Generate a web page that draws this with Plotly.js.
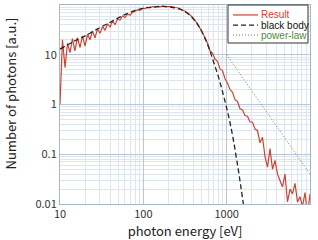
<!DOCTYPE html>
<html><head><meta charset="utf-8">
<script src="https://cdn.plot.ly/plotly-3.0.1.min.js"></script>
<style>html,body{margin:0;padding:0;background:#fff}</style>
</head><body><div id="chart" style="width:318px;height:240px"></div>
<script>
// Result (simulated spectrum)
const resultE = [10,10.7,11.5,12.3,13.2,14.1,15.1,16.2,17.4,18.6,20.0,21.4,22.9,24.5,26.3,28.2,30.2,32.4,34.7,37.2,39.8,42.7,45.7,49.0,52.5,56.2,60.3,64.6,69.2,74.1,79.4,85.1,91.2,97.7,105,112,120,129,138,148,158,170,182,195,209,224,240,257,275,295,316,339,363,389,417,447,479,513,550,589,631,676,724,776,832,891,955,1023,1096,1175,1259,1349,1445,1549,1660,1778,1905,2042,2188,2344,2512,2692,2884,3090,3311,3548,3802,4074,4365,4677,5012,5370,5754,6166,6607,7079,7586,8128,8710,9333,10000];
const resultN = [1.0,20,5.5,17,11,21,12,22,14,24,15,26,20,30,22,33,27,37,31,42,36,48,40,52,50,60,56,66,62,72,74,80,78,86,85,90,88,93,91,94,92,95,93,94,92,93,89,88,84,80,75,70,64,57,49,42,34,28,22,17,12,10.8,8.2,7.4,5.2,4.8,3.3,2.7,2.0,1.75,1.25,1.15,0.82,0.78,0.6,0.58,0.45,0.44,0.32,0.3,0.17,0.22,0.09,0.055,0.13,0.05,0.075,0.04,0.03,0.022,0.04,0.011,0.02,0.016,0.026,0.011,0.014,0.009,0.017,0.006,0.016];
// Black body curve
const bbE = [10,15,20,30,40,50,60,80,100,120,150,175,200,250,300,350,400,450,500,600,700,800,900,1000,1100,1200,1300,1400,1500,1600];
const bbN = [13,19,24,35,45,55,64,78,86,90,93,94,92,86,77,65,52,40,30,15,7,3.5,1.7,0.85,0.42,0.2,0.09,0.042,0.019,0.009];
// Power-law
const plE = [1000,10000];
const plN = [10,0.04];

const xTickVals = [10,100,1000,10000];
const xTickText = ['10','100','1000','10<sup>4</sup>'];
const yTickVals = [0.01,0.1,1,10,100];
const yTickText = ['0.01','0.1','1','10','100'];
const legendNames = ['Result','black body','power-law'];
const legendTextColors = ['#d0402f','#111111','#4f8a3c'];

const FONT = "'Noto Sans CJK JP','Noto Sans',sans-serif";
const LFONT = "'Liberation Sans',Arial,sans-serif";
const lineStyles = [
  {color:'#cc4433', width:1.2},
  {color:'#222', width:1.3, dash:'5px,3px'},
  {color:'#5a8a4a', width:1, dash:'1px,2px'}
];
const traces = [
  {x: resultE, y: resultN, type:'scatter', mode:'lines', name:legendNames[0], line:lineStyles[0]},
  {x: bbE, y: bbN, type:'scatter', mode:'lines', name:legendNames[1], line:Object.assign({shape:'spline'}, lineStyles[1])},
  {x: plE, y: plN, type:'scatter', mode:'lines', name:legendNames[2], line:lineStyles[2]}
];
const axisCommon = {
  type:'log', showgrid:true, gridcolor:'#b8c7d6', gridwidth:1,
  showline:true, linecolor:'#a6b6c6', linewidth:1, mirror:true, ticks:'', zeroline:false,
  tickfont:{size:11, color:'#333', family:FONT},
  minor:{showgrid:true, gridcolor:'#dde5ee', dtick:'D1', tickmode:'linear'}
};
// custom legend box (paper coordinates)
const LX0 = 0.672, LX1 = 0.992, LY0 = 0.809, LY1 = 1.0;
const rowY = [0.950, 0.899, 0.849];
const shapes = [{type:'rect', xref:'paper', yref:'paper', x0:LX0, x1:LX1, y0:LY0, y1:LY1,
  fillcolor:'#fff', line:{color:'#333', width:1}, layer:'above'}];
const annotations = [];
legendNames.forEach((n,i)=>{
  shapes.push({type:'line', xref:'paper', yref:'paper', x0:0.692, x1:0.792, y0:rowY[i], y1:rowY[i],
    line:lineStyles[i], layer:'above'});
  annotations.push({xref:'paper', yref:'paper', x:0.796, y:rowY[i], xanchor:'left', yanchor:'middle',
    text:n, showarrow:false, font:{size:10, family:LFONT, color:legendTextColors[i]}});
});
annotations.push({xref:'paper', yref:'paper', x:-0.198, y:0.553, xanchor:'center', yanchor:'middle',
  textangle:-90, text:'Number of photons [a.u.]', showarrow:false, borderpad:0,
  font:{size:13, color:'#222', family:FONT}});
const layout = {
  width:318, height:240, margin:{l:60, r:8, t:5, b:36},
  paper_bgcolor:'#fff', plot_bgcolor:'#fff',
  font:{family:FONT, color:'#333'},
  showlegend:false, shapes:shapes, annotations:annotations,
  xaxis: Object.assign({}, axisCommon, {range:[1,4], tickmode:'array', tickvals:xTickVals, ticktext:xTickText,
    title:{text:'photon energy [eV]', font:{size:13, color:'#222', family:FONT}, standoff:4}}),
  yaxis: Object.assign({}, axisCommon, {range:[-2,2], tickmode:'array', tickvals:yTickVals, ticktext:yTickText})
};
Plotly.newPlot('chart', traces, layout, {displayModeBar:false, staticPlot:true});
</script></body></html>
